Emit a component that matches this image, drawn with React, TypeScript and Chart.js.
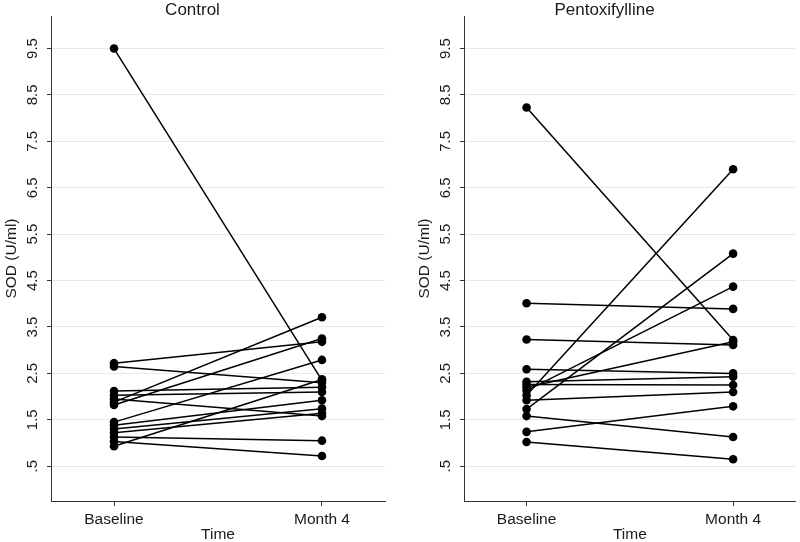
import React, { useEffect, useRef } from "react";
import Chart from "chart.js/auto";

const timeLabels = ["Baseline", "Month 4"];
const yTickValues = [0.5, 1.5, 2.5, 3.5, 4.5, 5.5, 6.5, 7.5, 8.5, 9.5];

const controlBaseline = [9.5, 2.72, 2.65, 2.12, 2.03, 1.95, 1.88, 1.82, 1.45, 1.38, 1.3, 1.22, 1.13, 1.03, 0.93];
const controlMonth4 = [2.35, 3.18, 2.3, 2.2, 2.1, 1.58, 3.71, 3.25, 2.79, 1.92, 1.74, 1.64, 1.05, 0.72, 2.37];

const pentoxBaseline = [8.23, 4.01, 3.23, 2.59, 2.32, 2.26, 2.2, 2.13, 2.03, 1.92, 1.73, 1.58, 1.24, 1.02];
const pentoxMonth4 = [3.22, 3.89, 3.11, 2.5, 2.43, 2.25, 3.18, 4.37, 6.9, 2.1, 5.08, 1.13, 1.79, 0.65];

const FONT = "'Liberation Sans', Arial, Helvetica, sans-serif";
const TEXT = "#1a1a1a";

function buildConfig(title: string, base: number[], m4: number[], padLeft: number, padRight: number): any {
  const datasets = base.map((b, i) => ({
    data: [
      { x: 0, y: b },
      { x: 1, y: m4[i] },
    ],
    borderColor: "#000",
    backgroundColor: "#000",
    borderWidth: 1.5,
    pointRadius: 4.3,
    pointBorderWidth: 0,
    pointHoverRadius: 4.3,
    showLine: true,
    fill: false,
  }));
  return {
    type: "line",
    data: { datasets },
    options: {
      animation: false,
      responsive: false,
      devicePixelRatio: 1,
      events: [],
      layout: { padding: { left: padLeft, right: padRight, top: 0, bottom: 0 } },
      plugins: {
        legend: { display: false },
        tooltip: { enabled: false },
        title: {
          display: true,
          text: title,
          color: TEXT,
          font: { family: FONT, size: 17, lineHeight: 0.65, weight: "normal" },
          padding: { top: 5, bottom: 0 },
        },
      },
      scales: {
        x: {
          type: "linear",
          min: -0.303,
          max: 1.303,
          afterBuildTicks: (s: any) => {
            s.ticks = [{ value: 0 }, { value: 1 }];
          },
          afterFit: (s: any) => {
            s.height = 41;
          },
          ticks: {
            callback: (v: number) => timeLabels[v] ?? "",
            color: TEXT,
            font: { family: FONT, size: 15.5, lineHeight: 1.2 },
            padding: 4,
            maxRotation: 0,
            minRotation: 0,
          },
          grid: {
            drawOnChartArea: false,
            drawTicks: true,
            tickLength: 5,
            tickColor: "#333",
            color: "#333",
          },
          border: { display: true, color: "#333", width: 1 },
          title: {
            display: true,
            text: "Time",
            color: TEXT,
            font: { family: FONT, size: 15.5, lineHeight: 1.0 },
            padding: { top: 0, bottom: 0 },
          },
        },
        y: {
          type: "linear",
          min: -0.25,
          max: 10.2,
          afterBuildTicks: (s: any) => {
            s.ticks = yTickValues.map((v) => ({ value: v }));
          },
          afterFit: (s: any) => {
            s.width = 51;
          },
          ticks: {
            callback: (v: number) => (v === 0.5 ? ".5" : String(v)),
            color: TEXT,
            font: { family: FONT, size: 15, lineHeight: 1.2 },
            padding: 3.5,
            minRotation: 90,
            maxRotation: 90,
            crossAlign: "center",
          },
          grid: {
            drawOnChartArea: true,
            drawTicks: true,
            tickLength: 4,
            color: "#e9e9e9",
            tickColor: "#333",
            lineWidth: 1,
          },
          border: { display: true, color: "#333", width: 1 },
          title: {
            display: true,
            text: "SOD (U/ml)",
            color: TEXT,
            font: { family: FONT, size: 15.5, lineHeight: 1.2 },
            padding: { top: 2, bottom: 0 },
          },
        },
      },
    },
  };
}

function Panel(props: { title: string; base: number[]; m4: number[]; left: number; padLeft: number; padRight: number }) {
  const ref = useRef<HTMLCanvasElement | null>(null);
  useEffect(() => {
    if (!ref.current) return;
    const chart = new Chart(ref.current, buildConfig(props.title, props.base, props.m4, props.padLeft, props.padRight));
    return () => chart.destroy();
  }, []);
  return (
    <canvas
      ref={ref}
      width={400}
      height={542}
      style={{ position: "absolute", left: props.left, top: 0, width: 400, height: 542 }}
    />
  );
}

export default function App() {
  return (
    <div style={{ position: "fixed", left: 0, top: 0, width: 800, height: 542, background: "#fff" }}>
      <Panel title="Control" base={controlBaseline} m4={controlMonth4} left={0} padLeft={0} padRight={15} />
      <Panel title="Pentoxifylline" base={pentoxBaseline} m4={pentoxMonth4} left={400} padLeft={13} padRight={4} />
    </div>
  );
}
